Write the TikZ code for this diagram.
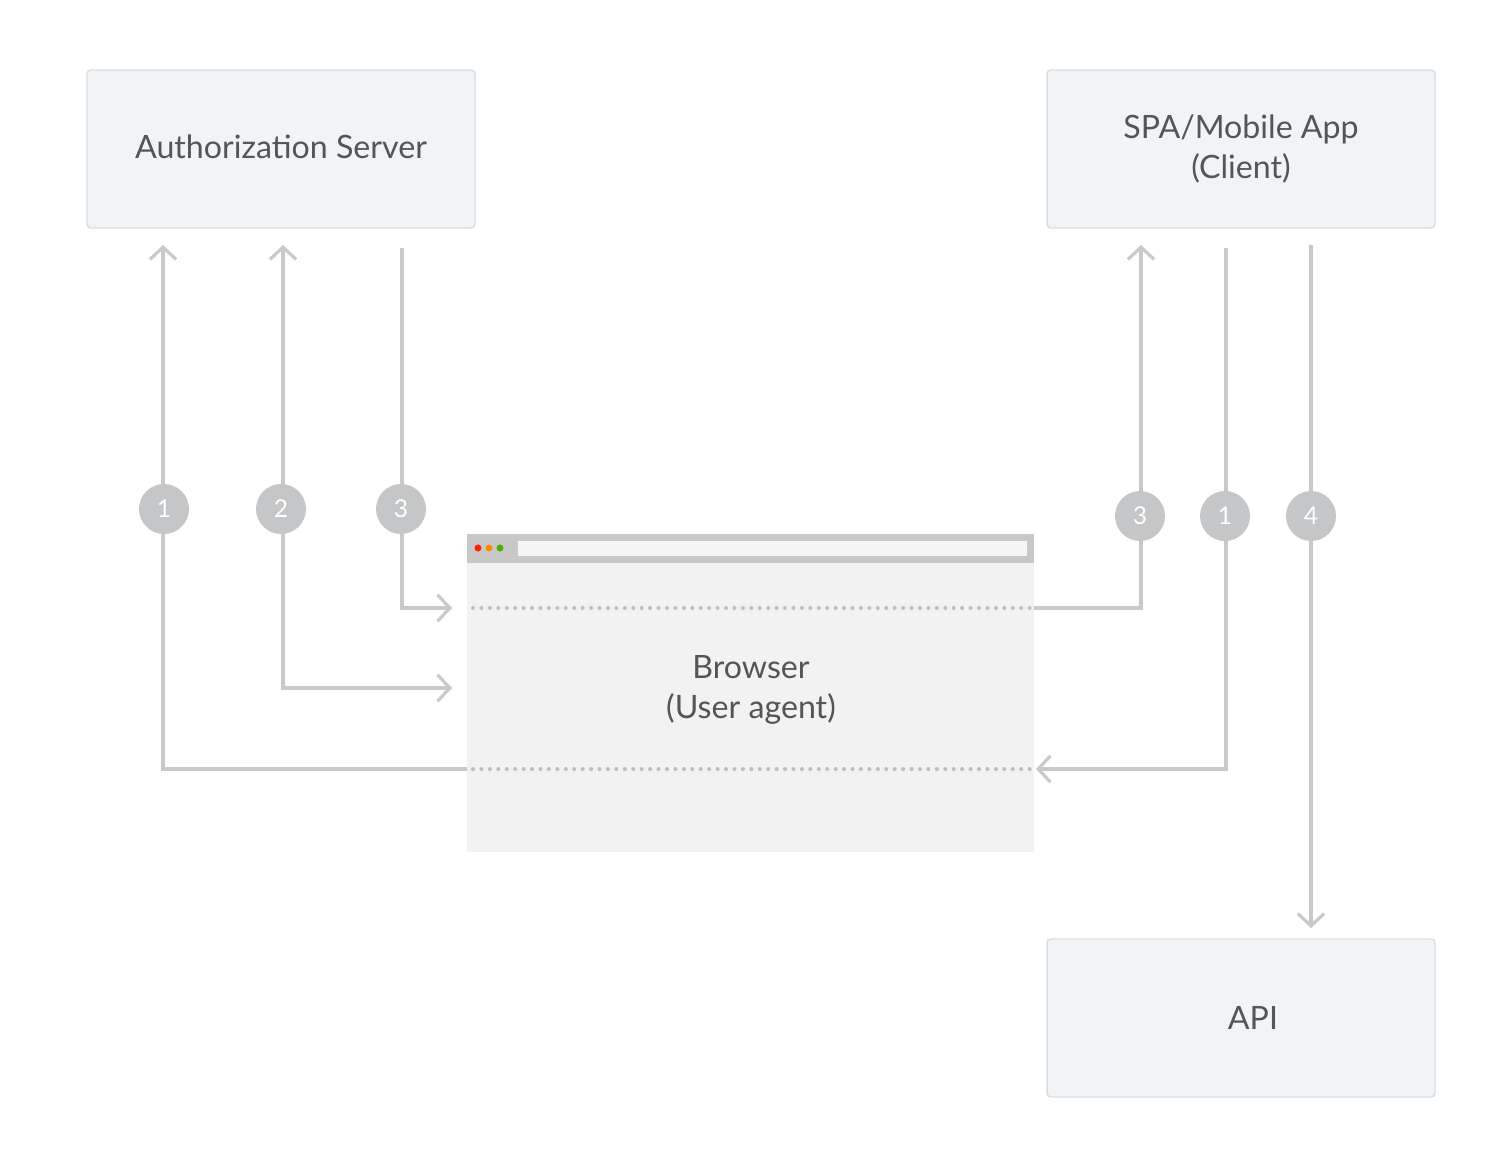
\documentclass[tikz,border=0pt]{standalone}
\usepackage{fontspec}
\setmainfont{Lato}
\usetikzlibrary{arrows.meta}
\definecolor{linegray}{HTML}{C9C9C9}
\definecolor{boxfill}{HTML}{F1F4F7}
\definecolor{boxline}{HTML}{D9DDE0}
\definecolor{browserfill}{HTML}{F2F2F2}
\definecolor{barfill}{HTML}{C8C8C8}
\definecolor{stepfill}{HTML}{C4C6C8}
\definecolor{textgray}{HTML}{555555}
\begin{document}
\begin{tikzpicture}[x=0.02cm, y=-0.02cm,
  >={Straight Barb[length=7pt,width=15pt]},
  flow/.style={draw=linegray, line width=1.8pt},
  party/.style={draw=boxline, line width=0.8pt, fill=boxfill, rounded corners=2pt,
    minimum width=7.76cm, minimum height=3.16cm, align=center,
    text=textgray, font=\fontsize{18.3}{23}\selectfont},
  stepnum/.style={circle, fill=stepfill, minimum size=1cm, inner sep=0pt,
    text=white, font=\fontsize{14}{14}\selectfont},
  sep/.style={draw=linegray!95!black, line width=2.3pt, line cap=round, dash pattern=on 0pt off 4.8pt}]
\useasboundingbox (0,0) rectangle (1500,1174);
% Kaesten
\node[party] (auth) at (281,149) {\raisebox{3pt}{Authorization Server}};
\node[party] (client) at (1241,149) {SPA/Mobile App\\(Client)};
\node[party] (api) at (1241,1018) {\hspace*{0.48cm}API};
% Browser
\node[fill=browserfill, minimum width=11.34cm, minimum height=6.36cm, inner sep=0pt] (browser) at (750.5,693) {};
\fill[barfill] (browser.north west) rectangle ([yshift=-0.58cm]browser.north east);
\fill[white!96!black] (518,541) rectangle (1027,556);
\fill[red!75!orange] (478,548) circle (3.5);
\fill[orange!90!yellow] (489,548) circle (3.5);
\fill[green!55!black!70!yellow] (500,548) circle (3.5);
\node[text=textgray, align=center, font=\fontsize{18.3}{23}\selectfont] (blabel) at (751,690) {Browser\\(User agent)};
% Trennlinien im Browser
\coordinate (s1) at (473,608);
\coordinate (s2) at (1030,608);
\coordinate (s3) at (473,769);
\coordinate (s4) at (1030,769);
\draw[sep] (s1) -- (s2);
\draw[sep] (s3) -- (s4);
% Endpunkte der Pfeile
\coordinate (a1s) at (467,769);
\coordinate (a1e) at (163,245);
\coordinate (a2s) at (283,245);
\coordinate (a2e) at (452,688);
\coordinate (a3s) at (402,248);
\coordinate (a3e) at (452,608);
\coordinate (c3s) at (1034,608);
\coordinate (c3e) at (1141,245);
\coordinate (c1s) at (1226,248);
\coordinate (c1e) at (1036,769);
\coordinate (c4s) at (1311,245);
\coordinate (c4e) at (1311,928);
% Pfeile
\draw[flow, ->] (a1s) -| (a1e);
\draw[flow, <->] (a2s) |- (a2e);
\draw[flow, ->] (a3s) |- (a3e);
\draw[flow, ->] (c3s) -| (c3e);
\draw[flow, ->] (c1s) |- (c1e);
\draw[flow, ->] (c4s) -- (c4e);
% Nummern
\node[stepnum] (n1) at (164,509) {1};
\node[stepnum] (n2) at (281,509) {2};
\node[stepnum] (n3) at (401,509) {3};
\node[stepnum] (m3) at (1140,516) {3};
\node[stepnum] (m1) at (1225,516) {1};
\node[stepnum] (m4) at (1311,516) {4};
\end{tikzpicture}
\end{document}
